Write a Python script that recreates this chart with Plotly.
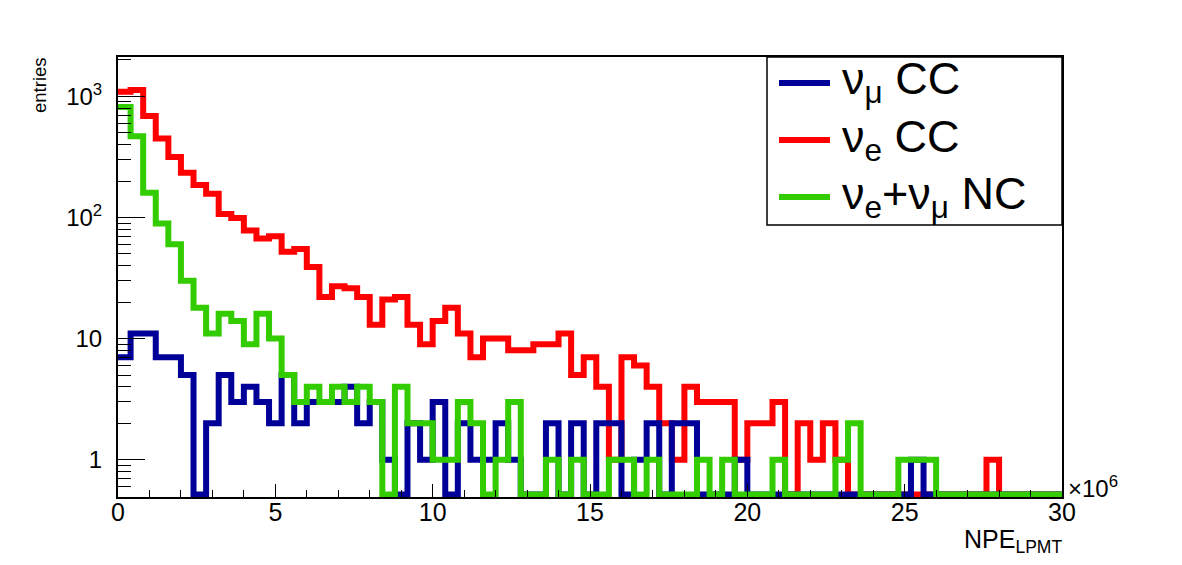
import numpy as np
import plotly.graph_objects as go

# ---------------- data ----------------
x_min, x_max, n_bins = 0.0, 30.0, 75          # NPE in units of 1e6
bin_edges = np.linspace(x_min, x_max, n_bins + 1)

numu_cc = [7, 11, 11, 7, 7, 5, 0, 2, 5, 3,
           4, 3, 2, 5, 2, 3, 3, 3, 4, 2,
           3, 1, 0, 2, 1, 3, 0, 2, 1, 1,
           2, 1, 0, 0, 2, 0, 2, 0, 2, 2,
           0, 1, 2, 0, 2, 2, 0, 0, 0, 1,
           0, 0, 0, 0, 0, 0, 0, 0, 0, 0,
           0, 0, 0, 1, 0, 0, 0, 0, 0, 0,
           0, 0, 0, 0, 0]

nue_cc = [1090, 1130, 690, 448, 316, 234, 185, 157, 107, 99,
          78, 67, 70, 52, 55, 39, 22, 27, 26, 22,
          13, 21, 22, 13, 9, 14, 18, 11, 7, 10,
          10, 8, 8, 9, 9, 11, 5, 7, 4, 1,
          7, 6, 4, 2, 1, 4, 3, 3, 3, 1,
          2, 2, 3, 0, 2, 1, 2, 1, 0, 0,
          0, 0, 0, 0, 0, 0, 0, 0, 0, 1,
          0, 0, 0, 0, 0]

nc = [817, 468, 160, 89, 60, 30, 18, 11, 16, 14,
      9, 16, 10, 5, 3, 4, 3, 4, 3, 4,
      3, 0, 4, 2, 2, 1, 1, 3, 2, 0,
      1, 3, 0, 0, 1, 0, 1, 0, 0, 1,
      1, 0, 1, 0, 0, 0, 1, 0, 1, 0,
      0, 0, 1, 0, 0, 0, 0, 1, 2, 0,
      0, 0, 1, 1, 1, 0, 0, 0, 0, 0,
      0, 0, 0, 0, 0]

series_names = ["ν<sub>μ</sub> CC", "ν<sub>e</sub> CC", "ν<sub>e</sub>+ν<sub>μ</sub> NC"]
series_colors = ["#000099", "#ff0000", "#33cc00"]

y_tick_vals = [1, 10, 100, 1000]
y_tick_text = ["1", "10", "10<sup>2</sup>", "10<sup>3</sup>"]

# ---------------- figure ----------------
LOG_LO, LOG_HI = -0.308, 3.325
floor_val = 10 ** (LOG_LO + 0.02)   # empty bins sit on the frame bottom

def step(vals):
    v = np.array(vals, dtype=float)
    v = np.where(v > 0, v, floor_val)
    return list(bin_edges), list(v) + [v[-1]]

fig = go.Figure()
draw_order = [1, 0, 2]   # red first, then blue, green on top
data = [numu_cc, nue_cc, nc]
for i in draw_order:
    xs, ys = step(data[i])
    fig.add_trace(go.Scatter(x=xs, y=ys, mode="lines",
                             line=dict(shape="hv", color=series_colors[i], width=6),
                             name=series_names[i], showlegend=False,
                             hoverinfo="skip"))

FONT = "Liberation Sans, Arial, Helvetica, sans-serif"

minor_y = []
for dec in [0.1, 1, 10, 100, 1000]:
    for m in range(2, 10):
        val = m * dec
        if 10 ** LOG_LO < val < 10 ** LOG_HI and val not in y_tick_vals:
            minor_y.append(val)

fig.update_layout(
    width=1182, height=565, autosize=False,
    margin=dict(l=118, r=120, t=57, b=68),
    paper_bgcolor="white", plot_bgcolor="white",
    font=dict(family=FONT, color="black", size=24),
    xaxis=dict(range=[x_min, x_max], showgrid=False, zeroline=False,
               showline=True, linecolor="black", linewidth=2, mirror=True,
               tickmode="linear", tick0=0, dtick=5,
               ticks="inside", ticklen=13, tickwidth=1, tickcolor="black",
               ticklabelstandoff=-8,
               tickfont=dict(size=25, family=FONT),
               minor=dict(dtick=1, ticks="inside", ticklen=7, tickwidth=1,
                          tickcolor="black", showgrid=False)),
    yaxis=dict(type="log", range=[LOG_LO, LOG_HI], showgrid=False, zeroline=False,
               showline=True, linecolor="black", linewidth=2, mirror=True,
               tickmode="array", tickvals=y_tick_vals, ticktext=y_tick_text,
               ticks="inside", ticklen=27, tickwidth=1, tickcolor="black",
               ticklabelstandoff=9,
               tickfont=dict(size=24, family=FONT),
               minor=dict(tickmode="array", tickvals=minor_y, ticks="inside",
                          ticklen=13, tickwidth=1, tickcolor="black",
                          showgrid=False)),
)

def px_x(p):
    return (p - 118) / 944.0

def px_y(p):
    return (497 - p) / 440.0

# legend box (drawn by hand to match the ROOT TLegend)
fig.add_shape(type="rect", xref="paper", yref="paper",
              x0=px_x(767), x1=1.0, y0=px_y(225), y1=1.0,
              line=dict(color="black", width=1.5), fillcolor="white", layer="above")
leg_rows = [83, 140, 197]
for i, yp in enumerate(leg_rows):
    fig.add_shape(type="line", xref="paper", yref="paper",
                  x0=px_x(779), x1=px_x(830), y0=px_y(yp), y1=px_y(yp),
                  line=dict(color=series_colors[i], width=6), layer="above")
    fig.add_annotation(xref="paper", yref="paper", x=px_x(840), y=px_y(yp - 1),
                       text=series_names[i], showarrow=False,
                       xanchor="left", yanchor="middle",
                       font=dict(size=45, family=FONT, color="black"))

# axis titles and exponent
fig.add_annotation(xref="paper", yref="paper", x=px_x(1064), y=px_y(523),
                   text="NPE<sub>LPMT</sub>", showarrow=False,
                   xanchor="right", yanchor="top",
                   font=dict(size=25, family=FONT, color="black"))
fig.add_annotation(xref="paper", yref="paper", x=px_x(1066), y=px_y(487),
                   text="×10<sup>6</sup>", showarrow=False,
                   xanchor="left", yanchor="middle",
                   font=dict(size=24, family=FONT, color="black"))
fig.add_annotation(xref="paper", yref="paper", x=px_x(40), y=px_y(55),
                   text="entries", showarrow=False, textangle=-90,
                   xanchor="center", yanchor="top",
                   font=dict(size=18.5, family=FONT, color="black"))

fig.write_html("out.html")
